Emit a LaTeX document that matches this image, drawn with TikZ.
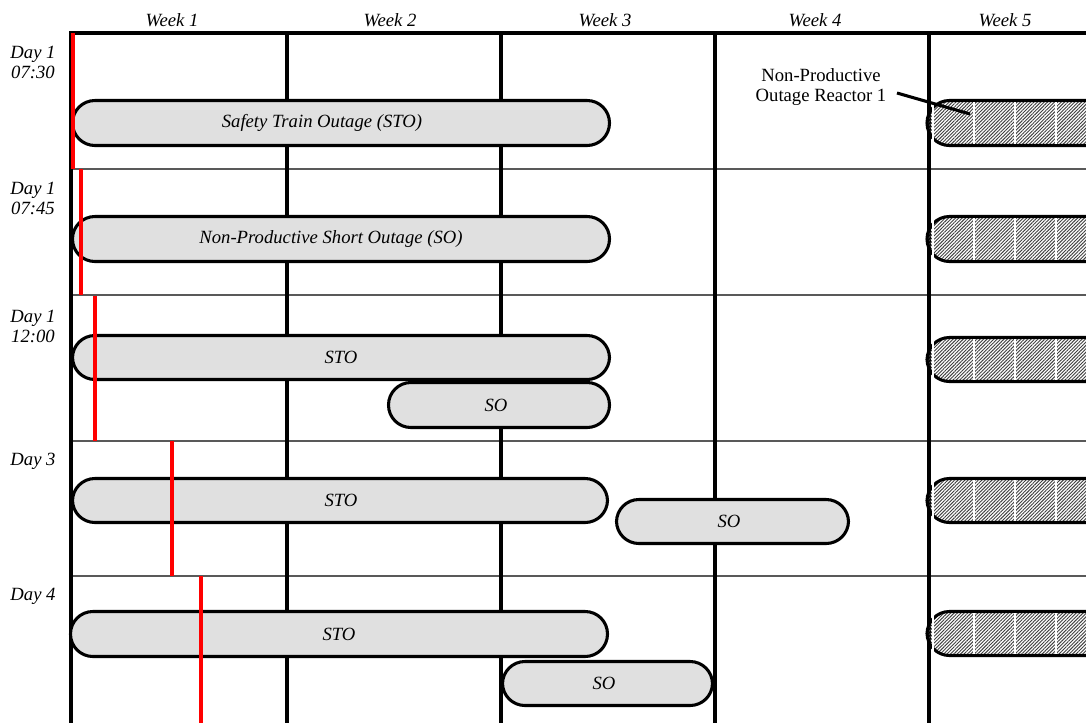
\documentclass[tikz,border=0pt]{standalone}
\usepackage{fontspec}
\setmainfont{Liberation Serif}
\usetikzlibrary{patterns.meta}

% An outage bar: name, outer box x1 y1 x2 y2, label x, label text
\newcommand\outagebar[7]{%
  \draw[outage] ({#2+1.5},{#3+1.5}) rectangle ({#4-1.5},{#5-1.5});
  \node[lbl] (#1) at (#6,{(#3+#5)/2}) {#7};}
% A non-productive (hatched) bar running off the right edge: name, y1, y2
\newcommand\npobar[3]{%
  \draw[npo] (927,{#2+1.5}) rectangle (1140,{#3-1.5});
  \foreach \sx in {933,974,1015,1056}
    \draw[white, line width=0.8pt] (\sx,{#2+3}) -- (\sx,{#3-3});
  \coordinate (#1) at (1000,{(#2+#3)/2});}

\begin{document}
\begin{tikzpicture}[x=0.75pt,y=-0.75pt,
  frame/.style={line width=2.3pt, line cap=rect},
  rowsep/.style={line width=0.8pt, black!65},
  outage/.style={draw, line width=2.3pt, fill=black!12, rounded corners=16.8pt},
  npo/.style={draw, line width=2.3pt, rounded corners=16.8pt,
    pattern={Lines[angle=45,distance=1.8pt,line width=0.7pt]}, pattern color=black!75},
  now/.style={red, line width=2.3pt},
  lbl/.style={font=\fontsize{14}{15}\selectfont\itshape, inner sep=0pt},
  daylbl/.style={lbl, align=center, font=\fontsize{14}{15}\selectfont\itshape},
  note/.style={font=\fontsize{14}{15.5}\selectfont, align=center, inner sep=0pt},
]
\useasboundingbox (0,0) rectangle (1086,722);
\begin{scope}
\clip (0,0) rectangle (1086,722);

% week headings
\node[lbl] (w1) at (172,20) {Week 1};
\node[lbl] (w2) at (390,20) {Week 2};
\node[lbl] (w3) at (605,20) {Week 3};
\node[lbl] (w4) at (815,20) {Week 4};
\node[lbl] (w5) at (1005,20) {Week 5};

% time-step headings
\node[daylbl] (d1) at (33,62) {Day 1\\07:30};
\node[daylbl] (d2) at (33,198) {Day 1\\07:45};
\node[daylbl] (d3) at (33,326) {Day 1\\12:00};
\node[daylbl] (d4) at (33,461) {Day 3};
\node[daylbl] (d5) at (33,596) {Day 4};

% row separators
\foreach \ry in {169,295,441,576}
  \draw[rowsep] (71,\ry) -- (1090,\ry);

% frame and week boundaries
\draw[frame] (71,33) -- (1090,33);
\foreach \wx in {71,287,501,715,929}
  \draw[frame] (\wx,33) -- (\wx,730);

% outages per time step
\outagebar{sto1}{71}{99}{611}{147}{322}{Safety Train Outage (STO)}
\outagebar{so1}{71}{215}{611}{263}{331}{Non-Productive Short Outage (SO)}
\outagebar{sto2}{71}{334}{611}{381}{341}{STO}
\outagebar{so2}{387}{381}{611}{429}{496}{SO}
\outagebar{sto3}{71}{477}{609}{524}{341}{STO}
\outagebar{so3}{615}{498}{850}{545}{729}{SO}
\outagebar{sto4}{69}{610}{609}{658}{339}{STO}
\outagebar{so4}{501}{660}{714}{707}{604}{SO}

% non-productive reactor outage
\npobar{npo1}{99}{147}
\npobar{npo2}{215}{263}
\npobar{npo3}{336}{383}
\npobar{npo4}{477}{524}
\npobar{npo5}{610}{657}

\node[note] (ann) at (821,87) {Non-Productive\\Outage Reactor 1};
\coordinate (annA) at (897,93);
\coordinate (annB) at (970,114);
\draw[line width=2.3pt] (annA) -- (annB);

% current time markers
\draw[now] (73,33) -- (73,169);
\draw[now] (81,169) -- (81,295);
\draw[now] (95,296) -- (95,441);
\draw[now] (172,441) -- (172,576);
\draw[now] (201,576) -- (201,730);
\end{scope}
\end{tikzpicture}
\end{document}
